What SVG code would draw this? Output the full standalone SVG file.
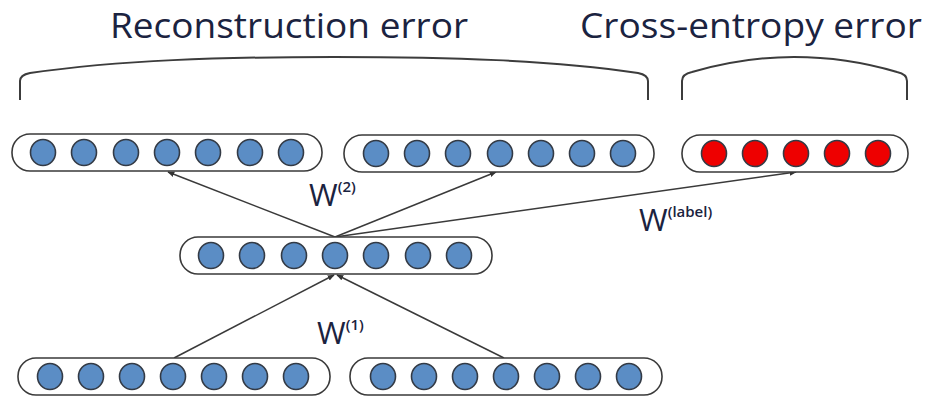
<svg xmlns="http://www.w3.org/2000/svg" width="928" height="399" viewBox="0 0 928 399">
  <defs>
    <marker id="arrow" viewBox="0 0 10 10" refX="9" refY="5" markerWidth="7" markerHeight="7" markerUnits="userSpaceOnUse" orient="auto">
      <path d="M0,1 L10,5 L0,9 z" fill="#333"/>
    </marker>
  </defs>
  <style>
    .title { font-family: "Open Sans", "Liberation Sans", sans-serif; font-size: 34px; fill: #1b2340; }
    .w { font-family: "Open Sans", "Liberation Sans", sans-serif; font-size: 31px; fill: #1b2340; }
    .sup { font-family: "Open Sans", "Liberation Sans", sans-serif; font-size: 15px; font-weight: 600; fill: #1b2340; }
    .brace { fill: none; stroke: #3c3c3c; stroke-width: 2; }
    .box { fill: #ffffff; stroke: #3a3a3a; stroke-width: 1.6; }
    .unit { fill: #5b8dc5; stroke: #333a45; stroke-width: 1.6; }
    .label-unit { fill: #ee0000; stroke: #333a45; stroke-width: 1.6; }
    .conn { stroke: #3a3a3a; stroke-width: 1.5; fill: none; marker-end: url(#arrow); }
  </style>

  <!-- Headings and braces -->
  <text class="title" x="110" y="38" textLength="358" lengthAdjust="spacingAndGlyphs">Reconstruction error</text>
  <text class="title" x="580" y="38" textLength="342" lengthAdjust="spacingAndGlyphs">Cross-entropy error</text>
  <path class="brace" d="M20,100 V81 Q20,75 30,73 C120,60 220,57 334,57 C450,57 550,60 638,73 Q648,75 648,81 V100"/>
  <path class="brace" d="M682,100 V81 Q682,74 692,72 C730,61 760,57 794,57 C828,57 860,61 897,72 Q907,74 907,81 V100"/>

  <!-- Connectors -->
  <g id="connectors">
    <line class="conn" x1="335" y1="237" x2="168" y2="172"/>
    <line class="conn" x1="335" y1="237" x2="496" y2="172"/>
    <line class="conn" x1="335" y1="237" x2="796" y2="172"/>
    <line class="conn" x1="174" y1="358" x2="334" y2="275"/>
    <line class="conn" x1="504" y1="358" x2="337" y2="275"/>
  </g>

  <!-- Weight labels -->
  <g id="weight-labels">
    <text class="w" x="309" y="206">W<tspan class="sup" dy="-14">(2)</tspan></text>
    <text class="w" x="639" y="231">W<tspan class="sup" dy="-14">(label)</tspan></text>
    <text class="w" x="317" y="344">W<tspan class="sup" dy="-14">(1)</tspan></text>
  </g>

  <!-- Reconstruction of left input -->
  <g id="recon-left">
    <rect class="box" x="12" y="134" width="310" height="37" rx="18"/>
    <ellipse class="unit" cx="43" cy="152.5" rx="12.5" ry="13"/>
    <ellipse class="unit" cx="84" cy="152.5" rx="12.5" ry="13"/>
    <ellipse class="unit" cx="126" cy="152.5" rx="12.5" ry="13"/>
    <ellipse class="unit" cx="167" cy="152.5" rx="12.5" ry="13"/>
    <ellipse class="unit" cx="208" cy="152.5" rx="12.5" ry="13"/>
    <ellipse class="unit" cx="250" cy="152.5" rx="12.5" ry="13"/>
    <ellipse class="unit" cx="291" cy="152.5" rx="12.5" ry="13"/>
  </g>

  <!-- Reconstruction of right input -->
  <g id="recon-right">
    <rect class="box" x="344" y="135" width="310" height="37" rx="18"/>
    <ellipse class="unit" cx="376" cy="153.5" rx="12.5" ry="13"/>
    <ellipse class="unit" cx="417" cy="153.5" rx="12.5" ry="13"/>
    <ellipse class="unit" cx="458" cy="153.5" rx="12.5" ry="13"/>
    <ellipse class="unit" cx="500" cy="153.5" rx="12.5" ry="13"/>
    <ellipse class="unit" cx="541" cy="153.5" rx="12.5" ry="13"/>
    <ellipse class="unit" cx="582" cy="153.5" rx="12.5" ry="13"/>
    <ellipse class="unit" cx="623" cy="153.5" rx="12.5" ry="13"/>
  </g>

  <!-- Label distribution -->
  <g id="label-output">
    <rect class="box" x="682" y="135" width="226" height="37" rx="18"/>
    <ellipse class="label-unit" cx="714" cy="153.5" rx="12.5" ry="13"/>
    <ellipse class="label-unit" cx="755" cy="153.5" rx="12.5" ry="13"/>
    <ellipse class="label-unit" cx="796" cy="153.5" rx="12.5" ry="13"/>
    <ellipse class="label-unit" cx="837" cy="153.5" rx="12.5" ry="13"/>
    <ellipse class="label-unit" cx="878" cy="153.5" rx="12.5" ry="13"/>
  </g>

  <!-- Parent (hidden) layer -->
  <g id="parent">
    <rect class="box" x="180" y="237" width="312" height="37" rx="18"/>
    <ellipse class="unit" cx="211" cy="255.5" rx="12.5" ry="13"/>
    <ellipse class="unit" cx="252" cy="255.5" rx="12.5" ry="13"/>
    <ellipse class="unit" cx="294" cy="255.5" rx="12.5" ry="13"/>
    <ellipse class="unit" cx="335" cy="255.5" rx="12.5" ry="13"/>
    <ellipse class="unit" cx="376" cy="255.5" rx="12.5" ry="13"/>
    <ellipse class="unit" cx="418" cy="255.5" rx="12.5" ry="13"/>
    <ellipse class="unit" cx="459" cy="255.5" rx="12.5" ry="13"/>
  </g>

  <!-- Left child -->
  <g id="child-left">
    <rect class="box" x="18" y="358" width="312" height="37" rx="18"/>
    <ellipse class="unit" cx="50" cy="376.5" rx="12.5" ry="13"/>
    <ellipse class="unit" cx="91" cy="376.5" rx="12.5" ry="13"/>
    <ellipse class="unit" cx="132" cy="376.5" rx="12.5" ry="13"/>
    <ellipse class="unit" cx="173" cy="376.5" rx="12.5" ry="13"/>
    <ellipse class="unit" cx="214" cy="376.5" rx="12.5" ry="13"/>
    <ellipse class="unit" cx="255" cy="376.5" rx="12.5" ry="13"/>
    <ellipse class="unit" cx="296" cy="376.5" rx="12.5" ry="13"/>
  </g>

  <!-- Right child -->
  <g id="child-right">
    <rect class="box" x="350" y="358" width="312" height="37" rx="18"/>
    <ellipse class="unit" cx="383" cy="376.5" rx="12.5" ry="13"/>
    <ellipse class="unit" cx="424" cy="376.5" rx="12.5" ry="13"/>
    <ellipse class="unit" cx="465" cy="376.5" rx="12.5" ry="13"/>
    <ellipse class="unit" cx="506" cy="376.5" rx="12.5" ry="13"/>
    <ellipse class="unit" cx="547" cy="376.5" rx="12.5" ry="13"/>
    <ellipse class="unit" cx="588" cy="376.5" rx="12.5" ry="13"/>
    <ellipse class="unit" cx="629" cy="376.5" rx="12.5" ry="13"/>
  </g>
</svg>
